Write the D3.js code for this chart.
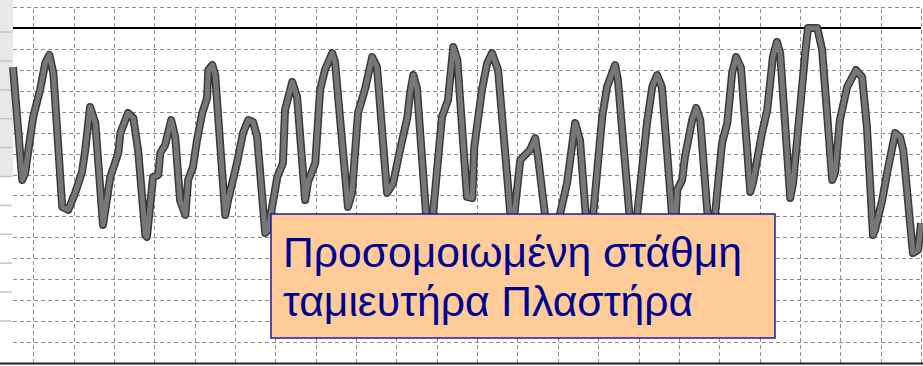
<!DOCTYPE html>
<html>
<head>
<meta charset="utf-8">
<script src="https://cdn.jsdelivr.net/npm/d3@7"></script>
<style>
  body { margin: 0; background: #fff; }
  svg { display: block; }
</style>
</head>
<body>
<div id="chart"></div>
<script>
// simulated reservoir level, vertices
// t = years from the first vertical gridline, level = metres
var years = [-0.50, -0.27, -0.20, 0.00, 0.17, 0.30, 0.40, 0.50, 0.72, 0.87,
  1.04, 1.21, 1.29, 1.41, 1.54, 1.73, 1.91, 2.11, 2.16, 2.35,
  2.48, 2.60, 2.78, 2.82, 2.97, 3.10, 3.15, 3.27, 3.42, 3.52,
  3.64, 3.77, 3.84, 3.96, 4.06, 4.19, 4.31, 4.34, 4.44, 4.51,
  4.76, 4.83, 5.05, 5.20, 5.33, 5.45, 5.55, 5.75, 5.82, 6.05,
  6.19, 6.24, 6.42, 6.54, 6.74, 6.81, 6.99, 7.11, 7.23, 7.41,
  7.48, 7.80, 7.90, 8.05, 8.23, 8.40, 8.52, 8.77, 8.92, 9.09,
  9.27, 9.34, 9.42, 9.51, 9.79, 9.91, 10.13, 10.28, 10.41, 10.51,
  10.75, 10.88, 10.93, 11.12, 11.25, 11.37, 11.52, 11.87, 11.97, 12.07,
  12.31, 12.44, 12.51, 12.76, 13.06, 13.23, 13.43, 13.55, 13.75, 13.88,
  14.10, 14.22, 14.42, 14.49, 14.84, 14.97, 15.21, 15.34, 15.46, 15.58,
  15.88, 15.96, 16.08, 16.15, 16.33, 16.43, 16.53, 16.77, 16.90, 17.07,
  17.20, 17.32, 17.42, 17.54, 17.77, 17.84, 18.06, 18.19, 18.33, 18.43,
  18.51, 18.76, 18.83, 19.00, 19.13, 19.20, 19.43, 19.55, 19.80, 19.87,
  19.99, 20.17, 20.39, 20.54, 20.66, 20.81, 20.86, 21.04, 21.16, 21.36,
  21.48, 21.56, 21.80, 21.93, 22.00];

var levels = [790.13, 784.74, 785.07, 787.75, 789.04, 790.33, 790.71, 789.85, 783.45, 783.31,
  784.12, 785.12, 786.17, 788.22, 787.46, 782.59, 784.88, 786.03, 786.98, 787.94,
  787.70, 786.17, 782.11, 782.02, 784.88, 784.98, 786.03, 786.41, 787.60, 786.79,
  783.78, 783.07, 784.74, 785.36, 786.65, 787.94, 788.65, 789.99, 790.23, 789.75,
  783.07, 783.78, 785.55, 786.98, 787.60, 787.51, 786.79, 782.21, 782.35, 784.88,
  785.55, 788.08, 789.42, 788.70, 783.78, 784.64, 785.55, 789.04, 789.99, 790.80,
  790.37, 783.45, 784.12, 787.94, 789.13, 790.61, 790.13, 784.12, 784.60, 786.17,
  787.70, 788.89, 789.75, 789.13, 781.63, 783.16, 787.75, 788.56, 791.09, 790.47,
  783.93, 783.88, 786.31, 789.04, 790.33, 790.80, 789.99, 782.11, 783.93, 785.69,
  786.17, 786.74, 785.84, 781.87, 783.16, 784.60, 787.46, 786.65, 781.63, 783.16,
  787.75, 789.18, 790.23, 789.51, 781.63, 783.16, 787.46, 789.18, 789.75, 789.18,
  781.87, 784.26, 784.74, 785.84, 787.60, 788.18, 787.60, 781.63, 783.16, 786.51,
  787.46, 789.85, 790.61, 790.09, 784.17, 784.64, 786.98, 788.08, 790.61, 791.33,
  790.80, 783.88, 784.60, 788.08, 790.80, 792.00, 792.00, 790.95, 784.74, 785.07,
  787.60, 789.18, 789.99, 789.66, 787.27, 782.11, 782.35, 783.78, 785.07, 786.98,
  786.79, 786.17, 781.25, 781.40, 782.68];

var yearTicks = d3.range(0, 23);          // one vertical gridline per year
var levelTicks = d3.range(776, 794);      // one horizontal gridline per metre
var spillLevel = 792;
var labelLines = ["Προσομοιωμένη στάθμη", "ταμιευτήρα Πλαστήρα"];

(function(){

var W = 923, H = 366;
var plot = {left: 13, right: 921, top: 7, bottom: 363};

var svg = d3.select("#chart")
  .append("svg")
    .attr("width", W)
    .attr("height", H);

var x = d3.scaleLinear()
          .domain([-0.5, 22])
          .range([plot.left, plot.right]);

var y = d3.scaleLinear()
          .domain([776, 793])
          .range([plot.bottom, plot.top]);

// leftover strip of the neighbouring panel
svg.append("rect")
   .attr("x", 0).attr("y", 0)
   .attr("width", plot.left).attr("height", 177)
   .style("fill", "#e8e8e8");

svg.selectAll("line.stub")
   .data(d3.range(0, 11))
   .enter()
   .append("line")
     .attr("class", "stub")
     .attr("x1", 0).attr("x2", plot.left - 1)
     .attr("y1", function(d) { return 32 + d * 28.9 })
     .attr("y2", function(d) { return 32 + d * 28.9 })
     .style("stroke", "#c4c4c4")
     .style("stroke-width", 1.5);

// gridlines
var gy = svg.append("g")
   .attr("transform", "translate(" + plot.left + ",0)")
   .call(d3.axisLeft(y).tickValues(levelTicks)
           .tickSize(-(plot.right - plot.left)).tickFormat(""));

var gx = svg.append("g")
   .attr("transform", "translate(0," + plot.bottom + ")")
   .call(d3.axisBottom(x).tickValues(yearTicks)
           .tickSize(-(plot.bottom - plot.top)).tickFormat(""));

[gx, gy].forEach(function(g) {
  g.select(".domain").remove();
  g.selectAll(".tick line")
   .style("stroke", "#8c8c8c")
   .style("stroke-width", 1)
   .style("stroke-dasharray", "4,3")
   .attr("shape-rendering", "crispEdges");
});

// spillway level
svg.append("line")
   .attr("x1", plot.left).attr("x2", plot.right)
   .attr("y1", y(spillLevel)).attr("y2", y(spillLevel))
   .style("stroke", "#000")
   .style("stroke-width", 2);

// bottom frame
svg.append("line")
   .attr("x1", 0).attr("x2", W)
   .attr("y1", plot.bottom + 0.5).attr("y2", plot.bottom + 0.5)
   .style("stroke", "#222")
   .style("stroke-width", 2);

var pts = years.map(function(t, i) { return [t, levels[i]] });

var line = d3.line()
             .x(function(d) { return x(d[0]) })
             .y(function(d) { return y(d[1]) });

svg.append("path")
   .datum(pts)
   .attr("d", line)
   .style("fill", "none")
   .style("stroke", "#3a3a3a")
   .style("stroke-width", 8)
   .style("stroke-linejoin", "round");

svg.append("path")
   .datum(pts)
   .attr("d", line)
   .style("fill", "none")
   .style("stroke", "#777777")
   .style("stroke-width", 5)
   .style("stroke-linejoin", "round");

// label box
var box = svg.append("g").attr("transform", "translate(271,214)");

box.append("rect")
   .attr("width", 504)
   .attr("height", 124)
   .style("fill", "#ffcc99")
   .style("stroke", "#1a1aa0")
   .style("stroke-width", 1.5);

box.selectAll("text")
   .data(labelLines)
   .enter()
   .append("text")
     .attr("x", 12)
     .attr("y", function(d, i) { return 53 + i * 49 })
     .style("font-family", "Liberation Sans, Arial, sans-serif")
     .style("font-size", "42.6px")
     .style("fill", "#000090")
     .text(function(d) { return d });

})()
</script>
</body>
</html>
